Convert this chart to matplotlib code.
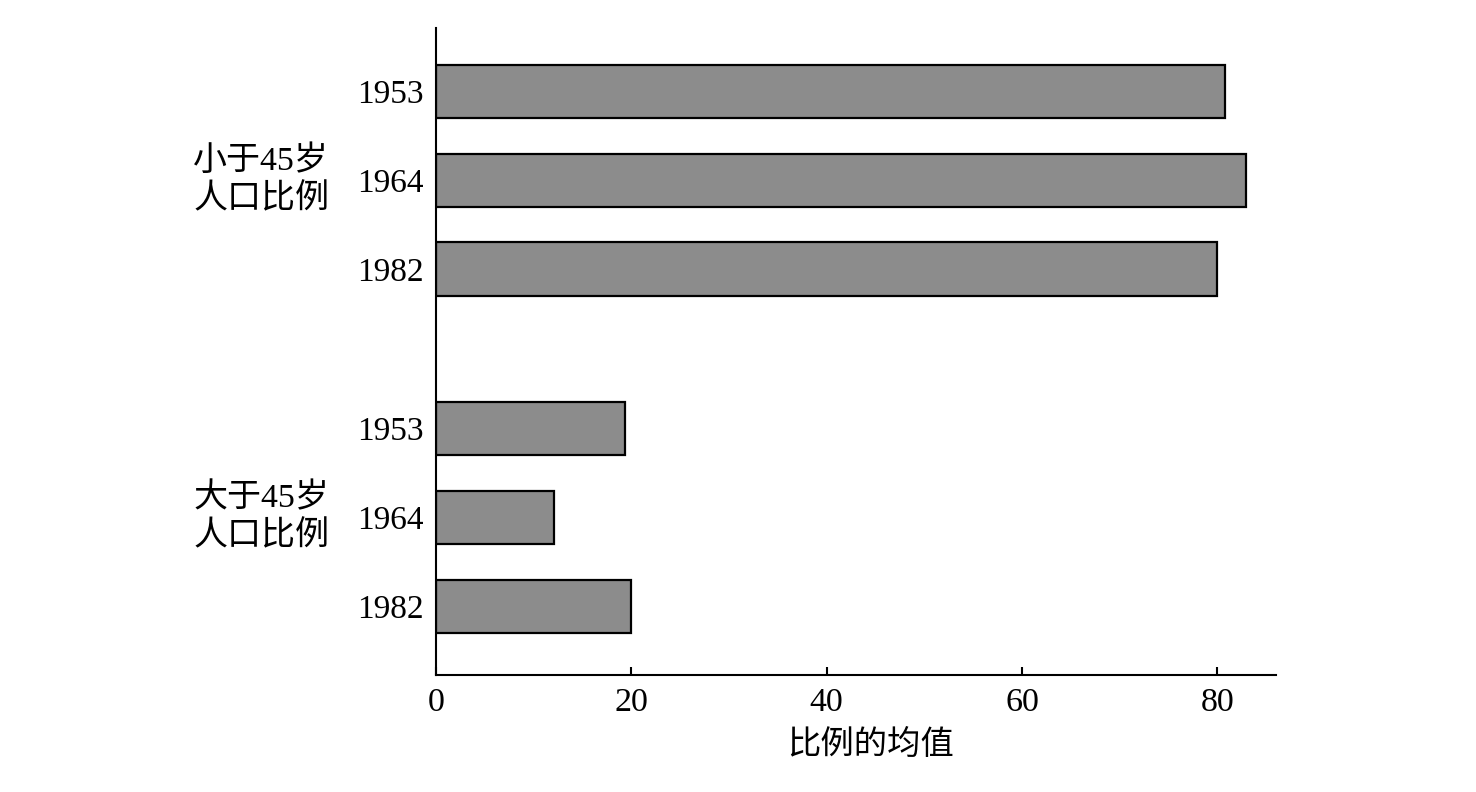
import matplotlib
matplotlib.use("Agg")
import matplotlib.pyplot as plt
import matplotlib.transforms as mtransforms

years = ["1953", "1964", "1982", "1953", "1964", "1982"]
values = [80.8, 82.9, 80.0, 19.3, 12.1, 20.0]
positions = [0, 1, 2, 3.8, 4.8, 5.8]
groups = ["小于45岁\n人口比例", "大于45岁\n人口比例"]
group_centers = [1, 4.8]
xticks = [0, 20, 40, 60, 80]
xlabel = "比例的均值"

fonts = ["Liberation Serif", "Noto Sans CJK SC"]
plt.rcParams["font.family"] = fonts

fig = plt.figure(figsize=(14.76, 7.92), dpi=100)
ax = fig.add_axes([0.2954, 0.1477, 0.8645 - 0.2954, 0.9646 - 0.1477])

ax.barh(positions, values, height=0.6, color="#8c8c8c", edgecolor="black", linewidth=1.6)
ax.set_xlim(0, 86)
ax.set_ylim(6.575, -0.715)
ax.set_yticks(positions)
ax.set_yticklabels(years, fontsize=24)
ax.set_xticks(xticks)
ax.set_xticklabels([str(t) for t in xticks], fontsize=24.5)
ax.tick_params(axis="y", length=0, pad=9)
ax.tick_params(axis="x", direction="in", length=6, width=1.5, pad=9)
for s in ["top", "right"]:
    ax.spines[s].set_visible(False)
for s in ["left", "bottom"]:
    ax.spines[s].set_linewidth(1.5)

ax.set_xlabel(xlabel, fontsize=24, family=fonts)
ax.xaxis.set_label_coords(0.517, -0.085)

trans = mtransforms.blended_transform_factory(ax.transAxes, ax.transData)
for g, c in zip(groups, group_centers):
    ax.text(-0.208, c, g, transform=trans, ha="center", va="center",
            multialignment="left", fontsize=24.5, family=fonts, linespacing=1.25)

fig.savefig("out.png", dpi=100)
